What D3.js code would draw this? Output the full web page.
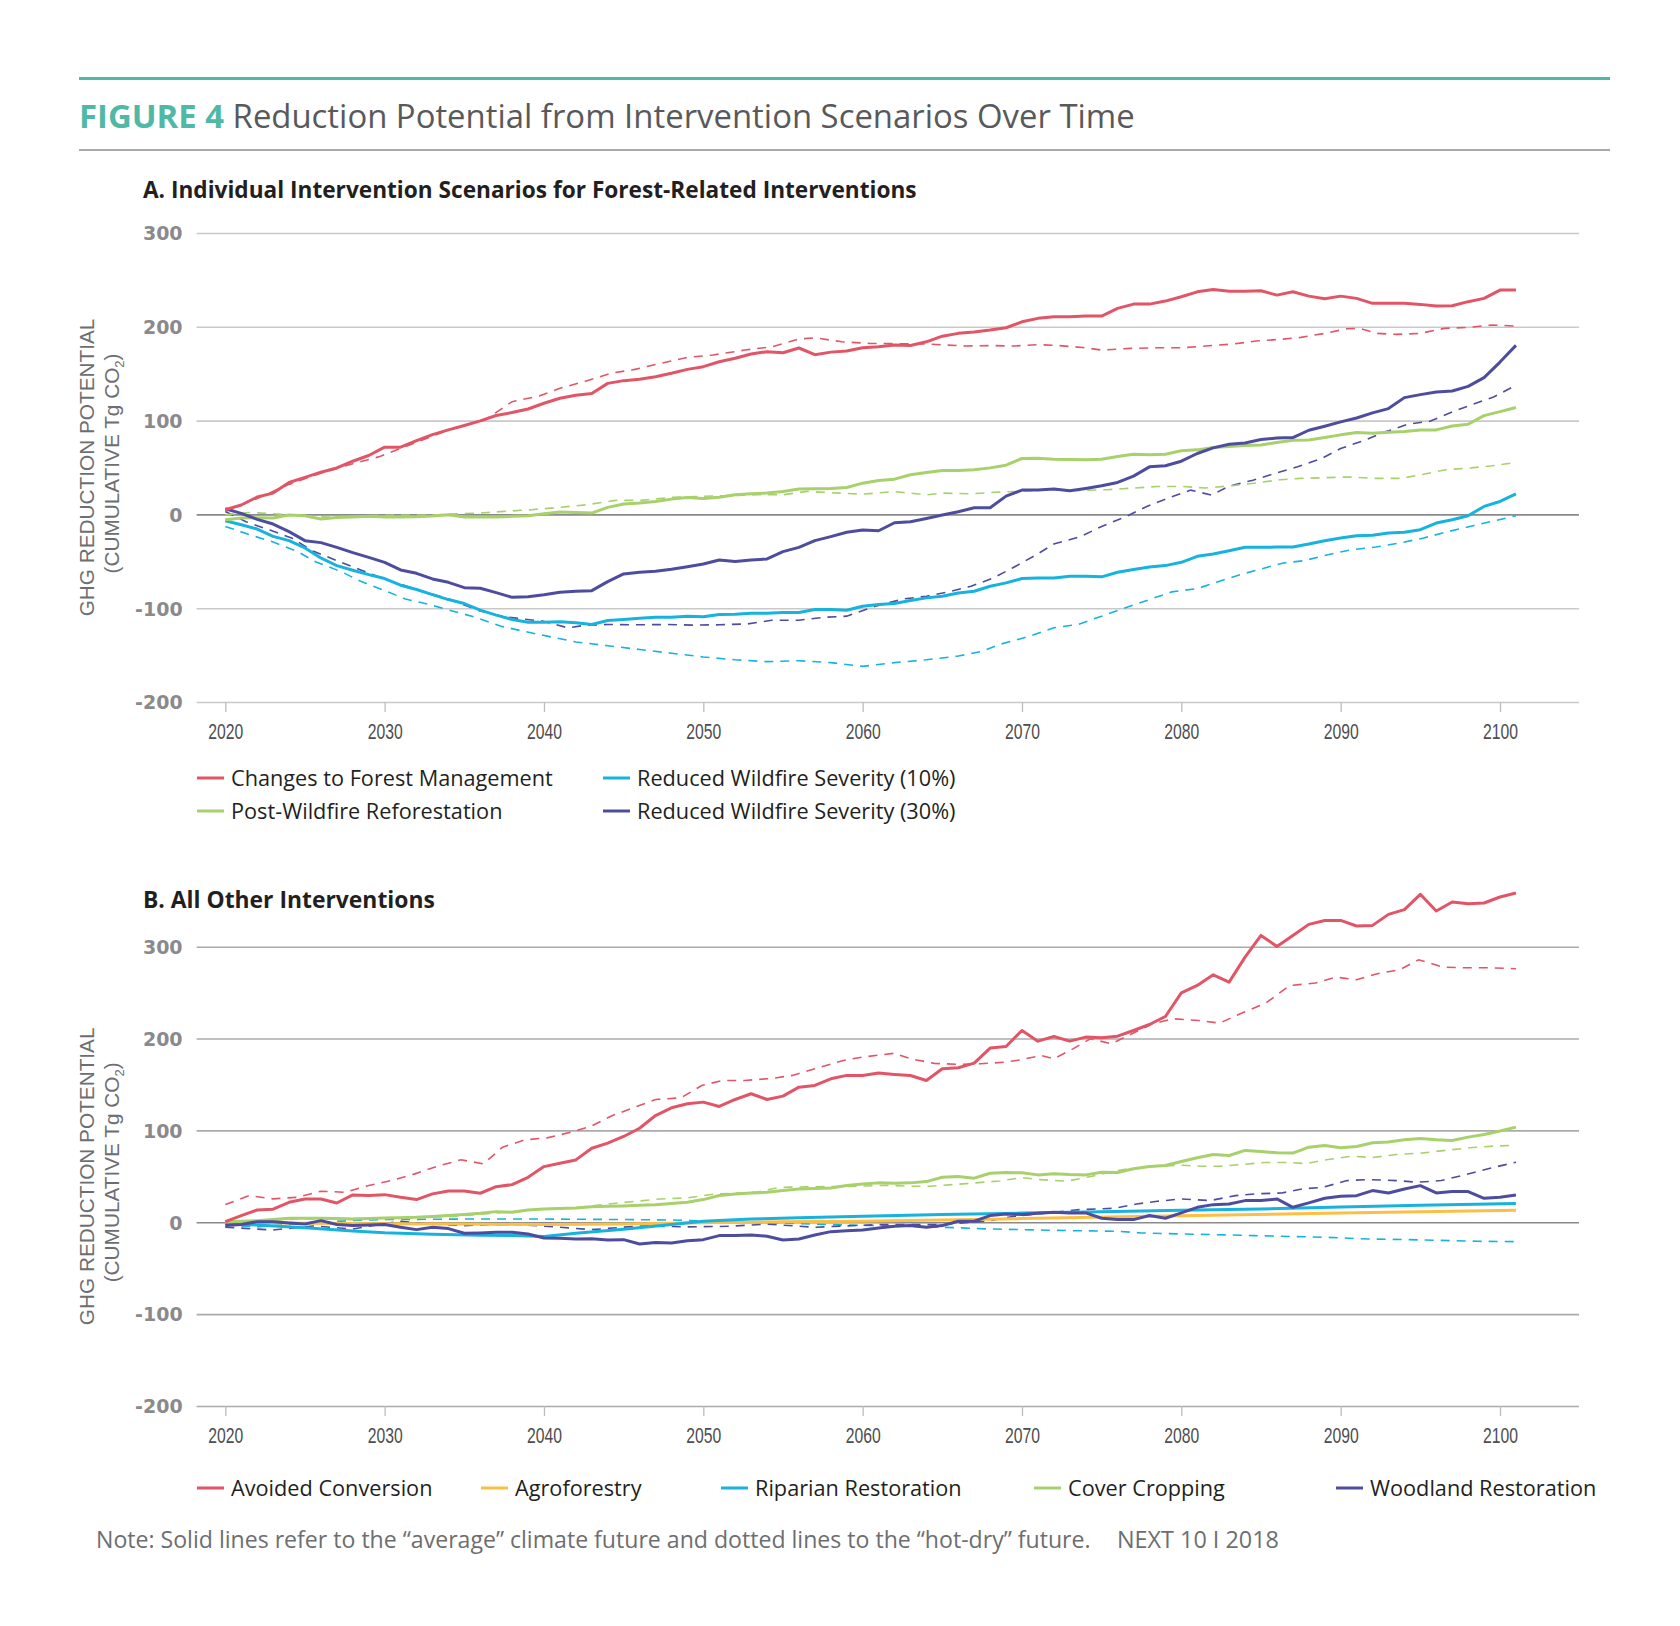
<!DOCTYPE html>
<html>
<head>
<meta charset="utf-8">
<script src="https://cdn.jsdelivr.net/npm/d3@7"></script>
<style>
  body { margin: 0; background: #fff; }
  svg text { font-family: "Open Sans", Lato, sans-serif; }
</style>
</head>
<body>
<script>
/* -----------------------------------------------------
 *  Data (cumulative Tg CO2)
 ----------------------------------------------------- */
const years = d3.range(2020, 2102); // annual series run 2020-2101
const xTicks = [2020, 2030, 2040, 2050, 2060, 2070, 2080, 2090, 2100];
const yTicks = [-200, -100, 0, 100, 200, 300];

// Panel A, solid = "average" climate future
const forestMgmtAvg = [5, 10, 18.5, 22.7, 34, 39.5, 45, 49.5, 56.7, 62.8,
  71.7, 71.7, 78.6, 85, 90.1, 94.7, 99.7, 105.4, 108.6, 112.4,
  118.5, 123.8, 127, 129, 139.7, 142.6, 144, 146.8, 150.4, 154.6,
  157.5, 162.8, 166.4, 171, 173.5, 172.4, 177.4, 170.3, 173, 174.2,
  177.7, 178.8, 180.5, 180, 184, 190, 193, 194.4, 196.5, 199,
  205.3, 209, 210.7, 210.7, 211.4, 211.4, 219.6, 224.2, 224.2, 227.4,
  232, 237.3, 239.8, 238, 238, 238.4, 233.8, 237.3, 232.7, 229.9,
  232.7, 230.3, 225, 225, 225, 223.9, 222.1, 222.5, 226.8, 230.3,
  239.1, 239.1];
const reforestAvg = [-5.6, -3.9, -3.5, -3.9, -0.7, -1.4, -4.9, -3.2, -2.8, -2.1,
  -2.8, -2.8, -2.5, -1.8, -0.4, -2.8, -2.8, -2.8, -2.1, -1.4,
  0.7, 2.5, 2.1, 1.4, 7.5, 11, 12.1, 13.8, 16.3, 18.1,
  17, 18.4, 20.9, 22, 22.7, 24.5, 27, 27.3, 27.7, 28.7,
  33.3, 36.2, 37.6, 42.2, 44.7, 46.8, 46.8, 47.5, 49.6, 52.5,
  59.6, 59.9, 58.9, 58.5, 58.2, 58.9, 61.7, 64.2, 63.5, 64.2,
  67.8, 68.8, 71.3, 72.4, 73.4, 74.1, 76.6, 79.1, 79.4, 81.9,
  84.8, 87.2, 86.5, 87.6, 88.3, 90.1, 90.1, 94.3, 96.1, 105.3,
  109.6, 113.9];
const wildfire10Avg = [-6.7, -11, -15.6, -23.4, -28, -35.8, -46.5, -54.6, -59.6, -64.2,
  -68.4, -75.5, -80.1, -85.5, -90.8, -95, -102.1, -107.4, -112, -114.9,
  -114.9, -114.5, -115.6, -117.4, -113.1, -112, -110.6, -109.6, -109.6, -108.5,
  -109.2, -106.7, -106.4, -105.3, -105.3, -104.6, -104.6, -101.4, -101.4, -102.1,
  -97.9, -96, -95, -91.8, -89, -87.2, -83.7, -81.9, -76.6, -73,
  -68.4, -67.7, -67.7, -65.9, -65.9, -66.6, -61.7, -58.8, -56, -54.6,
  -51.1, -44.7, -42.2, -38.7, -35.1, -35.1, -34.8, -34.8, -31.6, -28,
  -25.2, -22.7, -22.3, -19.9, -19.1, -16.3, -9.2, -5.7, -1.4, 8.5,
  13.8, 21.9];
const wildfire30Avg = [6, 1.1, -5.3, -10.3, -18.4, -28, -30.1, -35.1, -40.8, -45.8,
  -51.1, -59.2, -62.8, -68.8, -72.4, -78.1, -78.8, -83.4, -88.4, -87.7,
  -85.6, -83.1, -82, -81.3, -71.7, -63.5, -61.7, -60.7, -58.5, -55.7,
  -52.8, -48.6, -50.3, -48.6, -47.5, -39.7, -35.1, -28, -23.7, -19.1,
  -16.7, -17.4, -8.9, -7.8, -4.3, -0.7, 2.8, 7.1, 7.1, 19.5,
  25.9, 25.9, 27, 25.2, 27.7, 30.5, 34.1, 40.8, 50.7, 51.8,
  56.7, 64.9, 70.9, 74.8, 76.2, 79.8, 81.5, 81.9, 89.7, 94,
  98.6, 102.8, 108.2, 112.8, 124.5, 127.7, 130.5, 131.6, 136.5, 145.8,
  162.4, 180.2];

// Panel A, dashed = "hot-dry" future, [year, value]
const forestMgmtHot = [[2020, 3], [2022, 17], [2024, 32], [2026, 44], [2028, 54], [2029.7, 61.7],
  [2031, 70.4], [2032, 77], [2034, 90], [2036.3, 100.7], [2038, 120.2], [2039.7, 126.3], [2041, 134.4],
  [2042.5, 141.5], [2044.2, 150.4], [2045.7, 154.6], [2047.3, 161], [2049, 167.4], [2050.6, 169.9],
  [2052.6, 175.2], [2054.3, 178.7], [2056, 186.9], [2057, 188.3], [2058.7, 184], [2060.4, 182.3],
  [2062, 182], [2064, 181.6], [2066.5, 179.5], [2068, 180], [2069.5, 179.5], [2071, 181], [2072.3, 180],
  [2073.8, 178], [2075, 175.2], [2076.8, 177], [2078.4, 177.6], [2080, 177.6], [2081.5, 179.5],
  [2083.2, 181.6], [2084.7, 184.8], [2086.2, 186.6], [2087.5, 188.7], [2089, 193], [2090.4, 197.9],
  [2091.2, 198.3], [2092.3, 193], [2093.5, 191.9], [2095, 193], [2096.5, 198.3], [2098, 199.4],
  [2099.5, 201.9], [2101, 200.8]];
const reforestHot = [[2020, -0.4], [2021.5, 2.1], [2023, 0.7], [2025.5, -2.1], [2027, -3.2], [2029.5, -1],
  [2031, -0.7], [2033, -0.7], [2034.5, 0.7], [2036, 1.4], [2037.5, 3.2], [2039.2, 5], [2041, 7.5],
  [2042.7, 10.3], [2044.5, 14.9], [2046, 14.9], [2048, 18.1], [2049.7, 19.1], [2051.3, 19.9],
  [2053.3, 20.9], [2055, 20.9], [2056.5, 24.5], [2058.5, 22.7], [2060, 21.6], [2062, 24.3], [2064, 20.9],
  [2065, 22.7], [2066.8, 22], [2068.5, 23.8], [2070, 24.5], [2071.5, 26.3], [2073.5, 25.5], [2075.3, 26.3],
  [2077, 28.1], [2078.5, 29.8], [2080, 29.8], [2081.5, 28.1], [2083.2, 30.6], [2084.7, 33.5], [2086.2, 37],
  [2087.5, 38.4], [2089, 39.1], [2090.5, 39.9], [2092.2, 38.4], [2093.8, 38.4], [2095, 42.2],
  [2096.6, 47.6], [2098.2, 49.6], [2099.5, 51.8], [2101, 55.3]];
const wildfire10Hot = [[2020, -12.8], [2021.5, -21.6], [2023, -29.4], [2024.5, -39.4], [2025.7, -50.7],
  [2027.3, -61.3], [2028.5, -71.3], [2030, -81.2], [2031.3, -90.1], [2032.8, -96.1], [2034.3, -103.2],
  [2035.7, -109.6], [2037.3, -119.2], [2038.7, -124.5], [2040.2, -129.8], [2042, -136], [2044, -140],
  [2046, -144], [2048, -148], [2050, -152], [2052, -155], [2054, -157], [2056, -156], [2058, -158],
  [2060, -162], [2062, -158], [2064, -155], [2066, -151], [2067.5, -146], [2068.6, -138.6],
  [2070.5, -129.8], [2072, -120.9], [2073.5, -117.4], [2075, -108.5], [2076.5, -99.6], [2078, -90.8],
  [2079.4, -82.6], [2081, -79.1], [2082.4, -71.3], [2083.7, -64.2], [2085, -58.2], [2086.4, -51.8],
  [2087.7, -49.3], [2089.4, -42.2], [2090.7, -37.6], [2092.2, -34.8], [2093.7, -30.5], [2095.2, -25.2],
  [2096.8, -18.1], [2098.3, -12.1], [2099.7, -6.7], [2101, -1.4]];
const wildfire30Hot = [[2020, 3], [2021.3, -7.8], [2022.8, -16.7], [2024.2, -25.5], [2025.5, -39],
  [2027, -49.3], [2028.5, -59.2], [2030, -69.1], [2032, -80], [2034, -90], [2036, -103], [2037.5, -109.2],
  [2039.9, -113.8], [2041.5, -120.9], [2042.5, -118.4], [2044, -117.4], [2046, -117.7], [2047.7, -117.4],
  [2049.3, -118], [2051, -117.7], [2052.8, -116.7], [2054.3, -112.8], [2056, -112.8], [2057.7, -109.6],
  [2059, -108.5], [2060.8, -97.9], [2062.6, -90], [2064, -87.2], [2065.3, -83], [2066.8, -76.6],
  [2068.2, -67.8], [2069.4, -57.2], [2070.8, -44], [2072, -31.6], [2073.7, -23.5], [2075, -12.8],
  [2076.5, -2.5], [2077.8, 8.2], [2079.3, 18.1], [2080.6, 25.9], [2081.9, 20.6], [2083, 30.1],
  [2084.5, 36.5], [2086, 44.3], [2087.3, 50.7], [2088.8, 59.6], [2090, 70.2], [2091.5, 79.1],
  [2092.8, 88], [2094.2, 96.1], [2095.6, 99.3], [2097, 109.2], [2098.3, 117.4], [2099.6, 125.2],
  [2101, 137.6]];

// Panel B, solid = "average"
const avoidedConvAvg = [0.7, 7.3, 13.4, 14.2, 21.8, 25.4, 25.4, 21, 29.8, 29.1,
  30.1, 27.2, 24.7, 30.9, 34.1, 34.1, 31.6, 38.8, 41, 49,
  60.6, 64.3, 67.9, 80.6, 86.1, 93.4, 102.4, 116.2, 124.6, 129,
  130.8, 126.1, 133.7, 139.9, 133.7, 137.3, 147.1, 149, 156.2, 159.9,
  159.9, 162.4, 161, 159.8, 154.4, 167.1, 168.2, 173.3, 189.6, 191.4,
  208.8, 197.2, 202.3, 197.2, 201.6, 200.8, 202.6, 208.8, 215.3, 224,
  249.8, 257.8, 269.4, 261.4, 288.7, 312.3, 300.3, 312.3, 324.3, 328.6,
  328.6, 322.5, 323.2, 335.2, 340.3, 357, 338.8, 348.6, 346.8, 347.6,
  354.1, 358.5];
const coverCropAvg = [0.7, 1.2, 1.8, 3, 4.4, 4.4, 4.4, 4, 3.6, 4,
  4.7, 5, 5.4, 6.2, 7.3, 8.5, 9.8, 11.6, 10.9, 13.4,
  14.5, 15, 15.6, 17, 17.4, 17.8, 18.5, 19.2, 20.5, 21.8,
  24.7, 29.1, 30.9, 31.8, 32.7, 34.5, 36.3, 36.8, 37.4, 40,
  41.8, 42.9, 42.5, 42.9, 44.3, 49, 49.8, 48, 53.4, 54.2,
  53.8, 51.6, 52.7, 51.9, 51.6, 54.5, 54.2, 58.2, 60.7, 61.8,
  66.2, 70.2, 73.8, 72.7, 78.2, 77.1, 75.6, 75.3, 81.8, 83.6,
  81.1, 82.5, 86.5, 87.3, 89.8, 91.3, 89.8, 89.1, 92.7, 95.6,
  99.3, 103.6];
const woodlandAvg = [-3.6, -2.5, 0.7, 0.7, -0.7, -1.8, 1.8, -2.5, -3.6, -2.9,
  -2.5, -5.4, -8, -5.4, -6.9, -12, -11.6, -10.9, -10.9, -12.7,
  -17.1, -17.4, -18.2, -17.8, -19.2, -18.9, -23.6, -22.1, -22.5, -20,
  -18.9, -14.5, -14.5, -13.8, -15.2, -19.2, -18.2, -13.8, -10.2, -9.1,
  -8.4, -6.2, -4.4, -3.6, -5.4, -3.6, 1.1, 1.1, 7.3, 9.1,
  8.4, 9.8, 10.9, 10.2, 10.2, 4.4, 2.9, 2.9, 7.3, 4.4,
  10.2, 16.3, 19.2, 20, 23.6, 23.6, 25.4, 16.3, 21.1, 26.1,
  28.3, 29, 34.5, 31.9, 36.3, 39.9, 31.9, 33.4, 33.4, 26.1,
  27.2, 29.8];
const riparianAvg = [[2020, -1], [2022, -3], [2025, -6], [2028, -9.5], [2030, -11.5], [2033, -13],
  [2036, -14], [2038, -14.5], [2040, -15.5], [2042, -12], [2045, -7.5], [2048, -2.5], [2050, 1],
  [2053, 3.5], [2056, 5], [2060, 6.5], [2065, 8.5], [2070, 10], [2075, 11.5], [2080, 13], [2085, 14.5],
  [2090, 16.5], [2095, 18.5], [2101, 20.5]];
const agroforestryAvg = [[2020, 0], [2025, -1], [2030, -1.5], [2035, -2], [2040, -2.5], [2045, -2],
  [2050, -0.5], [2055, 0.5], [2060, 1], [2070, 4], [2080, 7], [2090, 10], [2101, 13]];

// Panel B, dashed = "hot-dry"
const avoidedConvHot = [[2020, 19.3], [2021.5, 29.1], [2023, 25.5], [2024.5, 27.2], [2026, 33.8],
  [2027.5, 32.7], [2029, 40], [2030.4, 45.4], [2031.9, 52.7], [2033.3, 61], [2034.8, 68], [2036.2, 63.6],
  [2037.4, 81.7], [2038.8, 89.7], [2040.2, 91.9], [2041.7, 98.1], [2042.9, 104.2], [2044.3, 116.2],
  [2045.7, 125.3], [2047, 133.7], [2048.6, 135.5], [2049.9, 148.9], [2051.2, 154.4], [2052.6, 154.4],
  [2054.3, 156.6], [2055.6, 159.9], [2057, 167.1], [2058.8, 176.2], [2060, 179.9], [2062, 184],
  [2063, 178], [2064.5, 173], [2066, 172], [2067.4, 172.5], [2068.9, 174.3], [2069.9, 176.8],
  [2071.2, 181.6], [2072, 178], [2073.2, 188.8], [2074.3, 199.8], [2075.6, 194.3], [2076.9, 205.2],
  [2078.2, 216.1], [2079.5, 221.5], [2081.1, 219.7], [2082.4, 216.8], [2083.7, 227], [2085.3, 238.6],
  [2086.8, 257.8], [2088.4, 260.4], [2089.7, 266.9], [2091, 264], [2092.3, 270.6], [2093.7, 274.9],
  [2094.9, 285.8], [2096.4, 277.8], [2097.7, 277.1], [2099.3, 277.1], [2101, 276]];
const coverCropHot = [[2020, 0], [2022, 2], [2025, 3.5], [2028, 4], [2031, 5.4], [2034, 6], [2037, 10],
  [2040, 14.5], [2042, 16], [2044.5, 20.7], [2047.3, 25.4], [2049, 26.5], [2050.6, 30.5], [2053.3, 32.7],
  [2054.8, 38.1], [2057.6, 38.8], [2059.3, 39], [2061.5, 40.3], [2063, 39.2], [2064.2, 39.2],
  [2066.5, 42.1], [2068.6, 45], [2070, 48.6], [2071.2, 46.4], [2072.8, 44.7], [2074.4, 50.1],
  [2075.8, 55.9], [2076.8, 58.5], [2078.4, 61], [2080, 62.1], [2081.3, 61], [2082.5, 61], [2084, 63.2],
  [2085.2, 65], [2086.8, 65], [2087.8, 63.9], [2089.2, 68.3], [2090.7, 71.9], [2092, 70.5],
  [2093.5, 73.8], [2095.2, 75.6], [2096.7, 78.5], [2098.3, 81.4], [2099.6, 82.9], [2101, 84]];
const woodlandHot = [[2020, -5.4], [2023, -8.4], [2025.5, -4], [2028, -7.3], [2030.9, 1.1], [2033, -2],
  [2035, -3.6], [2038, -2], [2041, -5.4], [2043, -8], [2046, -4], [2049, -5], [2051.6, -4.4], [2054, -2],
  [2057, -5.4], [2061, -2.5], [2065, -2.5], [2068, 1.8], [2069.4, 6.2], [2071.5, 10], [2073.6, 13.8],
  [2075.8, 15.2], [2077.2, 19.9], [2078.5, 22.9], [2080, 25.4], [2081.8, 23.6], [2083.4, 29],
  [2084.6, 30.9], [2086.3, 31.9], [2087.6, 36.3], [2088.9, 38.1], [2090.4, 45.4], [2091.7, 46.5],
  [2093.5, 45.4], [2094.8, 43.6], [2096.3, 45.4], [2097.6, 50.8], [2099.2, 58.1], [2101, 65.4]];
const riparianHot = [[2020, -3], [2022, -5], [2025, -1], [2028, 2], [2030, 3], [2035, 3.5], [2040, 3.5],
  [2045, 3], [2048, 2.5], [2050, 1.5], [2053, 0], [2056, -1.5], [2059, -3], [2062, -4], [2065, -5.4],
  [2068, -7.3], [2070, -8], [2073, -9.1], [2076, -9.8], [2077.5, -11.6], [2080, -12.7], [2082, -13.4],
  [2084.6, -14.5], [2086.2, -15.2], [2089, -16.3], [2091.7, -18.2], [2094.3, -18.9], [2097, -20],
  [2098.6, -20.7], [2101, -21.1]];

/* -----------------------------------------------------
 *  Setup
 ----------------------------------------------------- */
const width = 1680;
const height = 1626;

const colors = {
  red: "#e15567",
  green: "#a8d06b",
  cyan: "#17b3de",
  purple: "#4e4c9e",
  orange: "#fcbf44",
  teal: "#4fb9a6",
};

const svg = d3
  .select("body")
  .append("svg")
  .attr("width", width)
  .attr("height", height);

const annual = (vals) => vals.map((v, i) => [years[i], v]);

// scale a text's font-size so its rendered width matches the original artwork
function fitWidth(sel, target) {
  const w = sel.node().getComputedTextLength();
  const fs = parseFloat(sel.style("font-size"));
  const size = (fs * target) / w;
  sel.style("font-size", size + "px");
  return size;
}

/* -----------------------------------------------------
 *  Header
 ----------------------------------------------------- */
svg.append("line")
  .attr("x1", 79).attr("x2", 1610).attr("y1", 78.5).attr("y2", 78.5)
  .attr("stroke", colors.teal).attr("stroke-width", 3);
svg.append("line")
  .attr("x1", 79).attr("x2", 1610).attr("y1", 150).attr("y2", 150)
  .attr("stroke", "#8c8c8c").attr("stroke-width", 1.5);

const title = svg.append("text")
  .attr("x", 79).attr("y", 128)
  .style("font-size", "30px")
  .attr("fill", "#58595b");
title.append("tspan").attr("fill", colors.teal).style("font-weight", 700).text("FIGURE 4");
title.append("tspan").text(" Reduction Potential from Intervention Scenarios Over Time");
fitWidth(title, 1056);

/* -----------------------------------------------------
 *  Panel drawing
 ----------------------------------------------------- */
const x = d3.scaleLinear().domain([2020, 2100]).range([225.3, 1500]);
const gridLeft = 196.6;
const gridRight = 1579;
let legendSize = null;

function drawPanel(cfg) {
  const y = d3.scaleLinear().domain([-200, 300]).range([cfg.bottom, cfg.top]);
  const g = svg.append("g");

  const sub = g.append("text")
    .attr("x", 143).attr("y", cfg.subtitleY)
    .style("font-size", "20px").style("font-weight", 700)
    .attr("fill", "#231f20")
    .text(cfg.subtitle);
  fitWidth(sub, cfg.subtitleWidth);

  // y axis with gridlines
  const yAxis = g.append("g")
    .attr("transform", `translate(${gridLeft},0)`)
    .call(
      d3.axisLeft(y)
        .tickValues(yTicks)
        .tickSize(-(gridRight - gridLeft))
        .tickPadding(14)
        .tickFormat((d) => String(d))
    );
  yAxis.select(".domain").remove();
  yAxis.selectAll(".tick line")
    .attr("stroke", (d) => (d === 0 ? "#8a8a8a" : cfg.gridColor))
    .attr("stroke-width", 1.6);
  yAxis.selectAll(".tick text")
    .attr("fill", "#8a8a8d")
    .style("font-family", "'DejaVu Sans', sans-serif")
    .style("font-weight", 700)
    .style("font-size", "19px")
    .attr("dy", "0.36em");

  // x axis ticks below the bottom gridline
  const xAxis = g.append("g")
    .attr("transform", `translate(0,${cfg.bottom})`)
    .call(d3.axisBottom(x).tickValues(xTicks).tickSize(10).tickFormat(d3.format("d")));
  xAxis.select(".domain").remove();
  xAxis.selectAll(".tick line").attr("stroke", "#bdbdbd").attr("stroke-width", 1.3);
  xAxis.selectAll(".tick text")
    .attr("y", cfg.xLabelY - cfg.bottom).attr("dy", 0)
    .attr("fill", "#4d4d4f")
    .style("font-family", "'Liberation Sans', Arial, sans-serif")
    .style("font-size", "22px")
    .attr("textLength", 35)
    .attr("lengthAdjust", "spacingAndGlyphs");

  // y axis title, two rotated lines
  const midY = (cfg.top + cfg.bottom) / 2;
  const t1 = g.append("text")
    .attr("transform", `translate(94,${midY}) rotate(-90)`)
    .attr("text-anchor", "middle")
    .attr("fill", "#6d6e71")
    .style("font-family", "'Liberation Sans', Arial, sans-serif")
    .style("font-size", "20px")
    .text("GHG REDUCTION POTENTIAL");
  const tSize = fitWidth(t1, 298);
  const t2 = g.append("text")
    .attr("transform", `translate(119,${midY - 4}) rotate(-90)`)
    .attr("text-anchor", "middle")
    .attr("fill", "#6d6e71")
    .style("font-family", "'Liberation Sans', Arial, sans-serif")
    .style("font-size", tSize + "px");
  t2.append("tspan").text("(CUMULATIVE Tg CO");
  t2.append("tspan").attr("dy", 5).style("font-size", "13px").text("2");
  t2.append("tspan").attr("dy", -5).text(")");

  const line = d3.line()
    .x((d) => x(d[0]))
    .y((d) => y(d[1]))
    .curve(d3.curveLinear);

  // dashed "hot-dry" lines first, solid "average" on top
  g.selectAll(".hot")
    .data(cfg.hot)
    .enter()
    .append("path")
    .attr("class", "hot")
    .attr("d", (d) => line(d.values))
    .attr("fill", "none")
    .attr("stroke", (d) => d.color)
    .attr("stroke-width", 1.6)
    .attr("stroke-dasharray", "9,7");

  g.selectAll(".avg")
    .data(cfg.avg)
    .enter()
    .append("path")
    .attr("class", "avg")
    .attr("d", (d) => line(d.values))
    .attr("fill", "none")
    .attr("stroke", (d) => d.color)
    .attr("stroke-width", 3)
    .attr("stroke-linejoin", "round");

  // legend
  const leg = g.selectAll(".legend")
    .data(cfg.legend)
    .enter()
    .append("g")
    .attr("class", "legend")
    .attr("transform", (d) => `translate(${d.x},${d.y})`);
  leg.append("line")
    .attr("x1", 0).attr("x2", 27)
    .attr("stroke", (d) => d.color)
    .attr("stroke-width", 3);
  const labels = leg.append("text")
    .attr("x", 34).attr("y", 7.5)
    .style("font-size", "20px")
    .attr("fill", "#231f20")
    .text((d) => d.name);
  if (legendSize === null) {
    // size legend text from the longest label of panel A
    legendSize = fitWidth(d3.select(labels.nodes()[0]), 322);
  }
  labels.style("font-size", legendSize + "px");
}

drawPanel({
  subtitle: "A. Individual Intervention Scenarios for Forest-Related Interventions",
  subtitleY: 198,
  subtitleWidth: 774,
  top: 233,
  bottom: 702,
  xLabelY: 739,
  gridColor: "#c9c9c9",
  hot: [
    { color: colors.cyan, values: wildfire10Hot },
    { color: colors.purple, values: wildfire30Hot },
    { color: colors.green, values: reforestHot },
    { color: colors.red, values: forestMgmtHot },
  ],
  avg: [
    { color: colors.cyan, values: annual(wildfire10Avg) },
    { color: colors.green, values: annual(reforestAvg) },
    { color: colors.purple, values: annual(wildfire30Avg) },
    { color: colors.red, values: annual(forestMgmtAvg) },
  ],
  legend: [
    { name: "Changes to Forest Management", color: colors.red, x: 197, y: 778 },
    { name: "Post-Wildfire Reforestation", color: colors.green, x: 197, y: 811 },
    { name: "Reduced Wildfire Severity (10%)", color: colors.cyan, x: 603, y: 778 },
    { name: "Reduced Wildfire Severity (30%)", color: colors.purple, x: 603, y: 811 },
  ],
});

drawPanel({
  subtitle: "B. All Other Interventions",
  subtitleY: 908,
  subtitleWidth: 292,
  top: 946.7,
  bottom: 1406,
  xLabelY: 1443,
  gridColor: "#ababab",
  hot: [
    { color: colors.cyan, values: riparianHot },
    { color: colors.purple, values: woodlandHot },
    { color: colors.green, values: coverCropHot },
    { color: colors.red, values: avoidedConvHot },
  ],
  avg: [
    { color: colors.orange, values: agroforestryAvg },
    { color: colors.cyan, values: riparianAvg },
    { color: colors.green, values: annual(coverCropAvg) },
    { color: colors.purple, values: annual(woodlandAvg) },
    { color: colors.red, values: annual(avoidedConvAvg) },
  ],
  legend: [
    { name: "Avoided Conversion", color: colors.red, x: 197, y: 1488 },
    { name: "Agroforestry", color: colors.orange, x: 481, y: 1488 },
    { name: "Riparian Restoration", color: colors.cyan, x: 721, y: 1488 },
    { name: "Cover Cropping", color: colors.green, x: 1034, y: 1488 },
    { name: "Woodland Restoration", color: colors.purple, x: 1336, y: 1488 },
  ],
});

/* -----------------------------------------------------
 *  Note
 ----------------------------------------------------- */
const note = svg.append("text")
  .attr("x", 96).attr("y", 1548)
  .style("font-size", "20px")
  .attr("fill", "#6d6e71")
  .text("Note: Solid lines refer to the \u201caverage\u201d climate future and dotted lines to the \u201chot-dry\u201d future.");
fitWidth(note, 995);
const source = svg.append("text")
  .attr("x", 1117).attr("y", 1548)
  .style("font-size", "20px")
  .attr("fill", "#6d6e71")
  .text("NEXT 10 I 2018");
fitWidth(source, 162);
</script>
</body>
</html>
